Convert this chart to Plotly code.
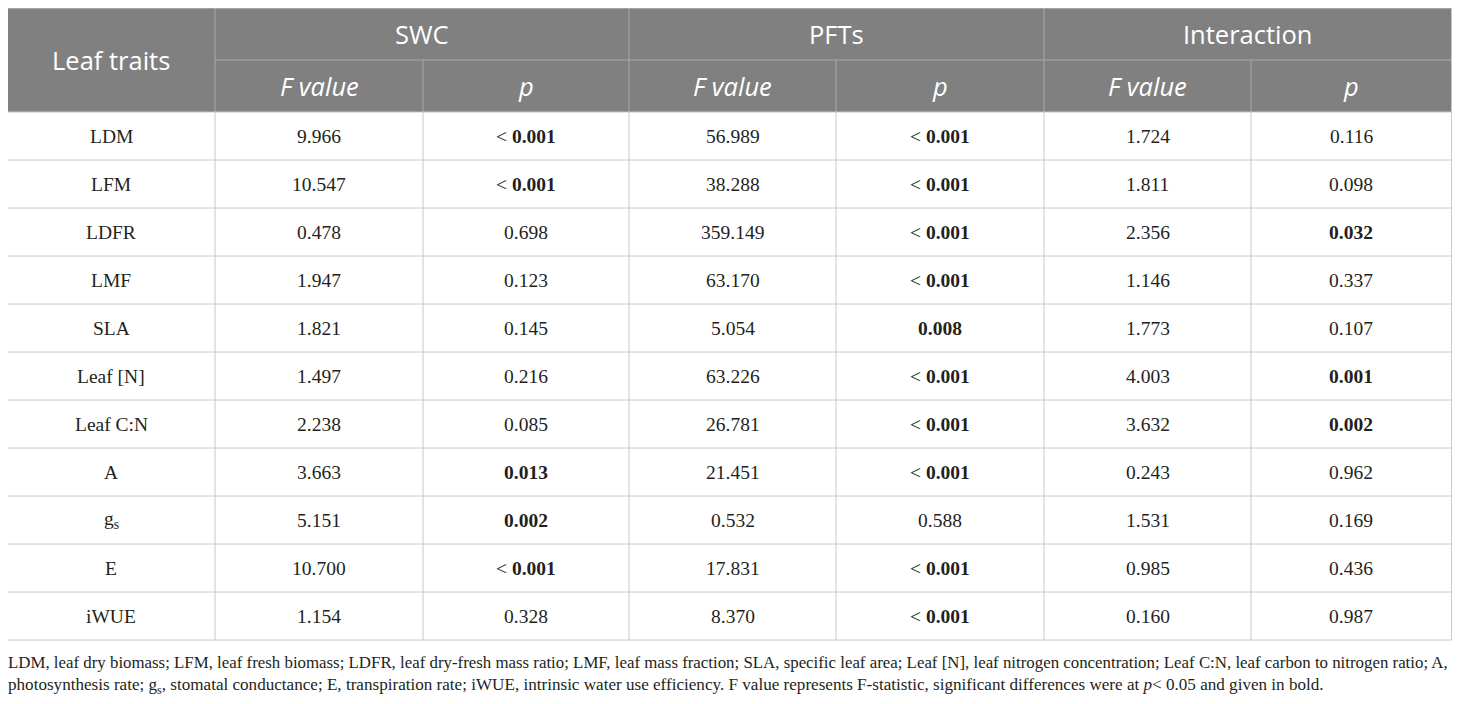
import plotly.graph_objects as go

# ---------------- data ----------------
traits = ["LDM", "LFM", "LDFR", "LMF", "SLA", "Leaf [N]", "Leaf C:N", "A",
          "g<sub>s</sub>", "E", "iWUE"]
swc_f = [9.966, 10.547, 0.478, 1.947, 1.821, 1.497, 2.238, 3.663, 5.151, 10.700, 1.154]
swc_p = ["< 0.001", "< 0.001", "0.698", "0.123", "0.145", "0.216", "0.085", "0.013",
         "0.002", "< 0.001", "0.328"]
pft_f = [56.989, 38.288, 359.149, 63.170, 5.054, 63.226, 26.781, 21.451, 0.532, 17.831, 8.370]
pft_p = ["< 0.001", "< 0.001", "< 0.001", "< 0.001", "0.008", "< 0.001", "< 0.001",
         "< 0.001", "0.588", "< 0.001", "< 0.001"]
int_f = [1.724, 1.811, 2.356, 1.146, 1.773, 4.003, 3.632, 0.243, 1.531, 0.985, 0.160]
int_p = ["0.116", "0.098", "0.032", "0.337", "0.107", "0.001", "0.002", "0.962",
         "0.169", "0.436", "0.987"]

header_groups = ["SWC", "PFTs", "Interaction"]
header_sub = ["F value", "p"]
first_header = "Leaf traits"

footnote_1 = ("LDM, leaf dry biomass; LFM, leaf fresh biomass; LDFR, leaf dry-fresh mass ratio; "
              "LMF, leaf mass fraction; SLA, specific leaf area; Leaf [N], leaf nitrogen concentration; "
              "Leaf C:N, leaf carbon to nitrogen ratio; A,")
footnote_2 = ("photosynthesis rate; g<sub>s</sub>, stomatal conductance; E, transpiration rate; "
              "iWUE, intrinsic water use efficiency. F value represents F-statistic, significant "
              "differences were at <i>p</i>< 0.05 and given in bold.")

# ---------------- layout constants ----------------
# page body has an 8px margin; axis units below equal page pixels
PAGE_W, PAGE_H, BODY_M = 1460, 704, 8
FIG_W, FIG_H = PAGE_W - 2 * BODY_M, PAGE_H - 2 * BODY_M
X = [7.5, 215, 423, 629, 836, 1044, 1251, 1451.5]
Y_TOP, Y_MID, Y_HEAD = 8, 60, 112
ROW_H = 48
HEAD_BG = "#808080"
HEAD_LINE = "#a9a9a9"
GRID = "#c8c8c8"
TXT = "#231f20"
HEAD_FONT = "Open Sans"
BODY_FONT = "Liberation Serif"
HEAD_SIZE = 25.5
BODY_SIZE = 19.5


def fmt_p(s):
    val = 0.0 if s.startswith("<") else float(s)
    if val < 0.05:
        if s.startswith("<"):
            return "< <b>" + s[2:] + "</b>"
        return "<b>" + s + "</b>"
    return s


n = len(traits)
y_bottom = Y_HEAD + n * ROW_H

shapes = []
annotations = []

# header background
shapes.append(dict(type="rect", xref="x", yref="y", x0=X[0], x1=X[-1], y0=Y_TOP, y1=Y_HEAD,
                   fillcolor=HEAD_BG, line=dict(width=0), layer="below"))


def line(x0, y0, x1, y1, color):
    shapes.append(dict(type="line", xref="x", yref="y", x0=x0, y0=y0, x1=x1, y1=y1,
                       line=dict(color=color, width=1)))


# header inner lines
line(X[1], Y_MID, X[-1], Y_MID, HEAD_LINE)
for i in range(1, len(X) - 1):
    ytop = Y_TOP if i in (1, 3, 5) else Y_MID
    line(X[i], ytop, X[i], Y_HEAD, HEAD_LINE)

# outer border header
line(X[0], Y_TOP, X[-1], Y_TOP, GRID)
line(X[0], Y_TOP, X[0], Y_HEAD, GRID)
line(X[-1], Y_TOP, X[-1], Y_HEAD, GRID)

# body grid
for r in range(n + 1):
    y = Y_HEAD + r * ROW_H
    line(X[0], y, X[-1], y, GRID)
for x in X:
    line(x, Y_HEAD, x, y_bottom, GRID)


def text(x, y, s, size, family, color, xanchor="center"):
    annotations.append(dict(x=x, y=y, xref="x", yref="y", text=s, showarrow=False,
                            xanchor=xanchor, yanchor="middle",
                            font=dict(size=size, family=family, color=color)))


# header texts
text((X[0] + X[1]) / 2, (Y_TOP + Y_HEAD) / 2, first_header, HEAD_SIZE, HEAD_FONT, "white")
for g, name in enumerate(header_groups):
    x0, x1 = X[1 + 2 * g], X[3 + 2 * g]
    text((x0 + x1) / 2, (Y_TOP + Y_MID) / 2, name, HEAD_SIZE, HEAD_FONT, "white")
    for k, sub in enumerate(header_sub):
        xa, xb = X[1 + 2 * g + k], X[2 + 2 * g + k]
        text((xa + xb) / 2, (Y_MID + Y_HEAD) / 2, "<i>" + sub + "</i>", HEAD_SIZE, HEAD_FONT, "white")

# body texts
columns = [traits,
           ["%.3f" % v for v in swc_f], [fmt_p(p) for p in swc_p],
           ["%.3f" % v for v in pft_f], [fmt_p(p) for p in pft_p],
           ["%.3f" % v for v in int_f], [fmt_p(p) for p in int_p]]
for c, col in enumerate(columns):
    xc = (X[c] + X[c + 1]) / 2
    for r, s in enumerate(col):
        yc = Y_HEAD + (r + 0.5) * ROW_H
        text(xc, yc, s, BODY_SIZE, BODY_FONT, TXT)

# footnotes (anchored inside the axis range so they are not hidden)
FOOT_X = BODY_M + 1
text(FOOT_X, 662, footnote_1, 16.85, BODY_FONT, TXT, xanchor="left")
text(FOOT_X, 685.5, footnote_2, 17.1, BODY_FONT, TXT, xanchor="left")
for a in annotations[-2:]:
    a["xshift"] = -3

fig = go.Figure()
fig.update_layout(
    width=FIG_W, height=FIG_H,
    margin=dict(l=0, r=0, t=0, b=0),
    paper_bgcolor="white", plot_bgcolor="white",
    xaxis=dict(range=[BODY_M, BODY_M + FIG_W], visible=False, fixedrange=True),
    yaxis=dict(range=[BODY_M + FIG_H, BODY_M], visible=False, fixedrange=True),
    shapes=shapes, annotations=annotations, showlegend=False,
)
fig.write_html("out.html")
